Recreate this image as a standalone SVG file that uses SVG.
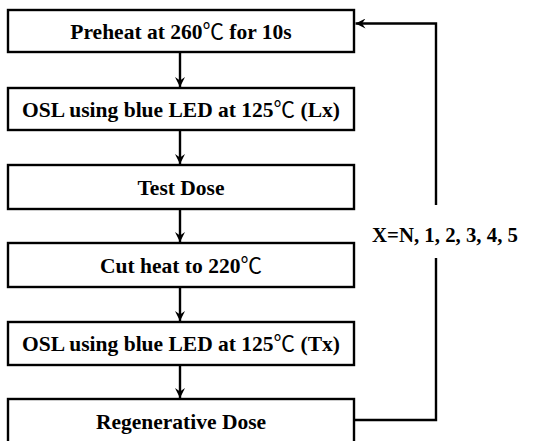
<svg xmlns="http://www.w3.org/2000/svg" width="534" height="441" viewBox="0 0 534 441">
<style>
.box{fill:#fff;stroke:#000;stroke-width:2.4}
.t{font-family:"Liberation Serif","Noto Sans CJK SC",serif;font-weight:bold;font-size:21.5px;fill:#000;text-anchor:middle}
.deg{font-family:"Noto Sans CJK SC","DejaVu Serif",serif;font-weight:normal}
.c{fill:none;stroke:#000;stroke-width:2.4}
</style>
<defs>
<marker id="ah" viewBox="0 0 10 10" refX="10" refY="5" markerWidth="10" markerHeight="10" markerUnits="userSpaceOnUse" orient="auto">
<path d="M0,0 L10,5 L0,10 L3.5,5 Z" fill="#000"/>
</marker>
</defs>
<g id="connectors">
<line class="c" x1="180" y1="53" x2="180" y2="87" marker-end="url(#ah)"/>
<line class="c" x1="180" y1="131" x2="180" y2="164" marker-end="url(#ah)"/>
<line class="c" x1="180" y1="209" x2="180" y2="242" marker-end="url(#ah)"/>
<line class="c" x1="180" y1="287" x2="180" y2="321" marker-end="url(#ah)"/>
<line class="c" x1="180" y1="365" x2="180" y2="398" marker-end="url(#ah)"/>
<polyline class="c" points="354,420 436,420 436,258"/>
<polyline class="c" points="436,205 436,23.5 355.5,23.5" marker-end="url(#ah)"/>
<text class="t" x="445" y="242" style="font-size:20.8px">X=N, 1, 2, 3, 4, 5</text>
</g>
<g id="n1"><rect class="box" x="8" y="10" width="346" height="42"/><text class="t" x="181" y="39">Preheat at 260<tspan class="deg">℃</tspan> for 10s</text></g>
<g id="n2"><rect class="box" x="8" y="88" width="346" height="42"/><text class="t" x="181" y="117">OSL using blue LED at 125<tspan class="deg">℃</tspan> (Lx)</text></g>
<g id="n3"><rect class="box" x="8" y="165" width="346" height="44"/><text class="t" x="181" y="195">Test Dose</text></g>
<g id="n4"><rect class="box" x="8" y="243" width="346" height="44"/><text class="t" x="181" y="273">Cut heat to 220<tspan class="deg">℃</tspan></text></g>
<g id="n5"><rect class="box" x="8" y="322" width="346" height="43"/><text class="t" x="181" y="351">OSL using blue LED at 125<tspan class="deg">℃</tspan> (Tx)</text></g>
<g id="n6"><rect class="box" x="8" y="399" width="346" height="50"/><text class="t" x="181" y="429">Regenerative Dose</text></g>
</svg>
